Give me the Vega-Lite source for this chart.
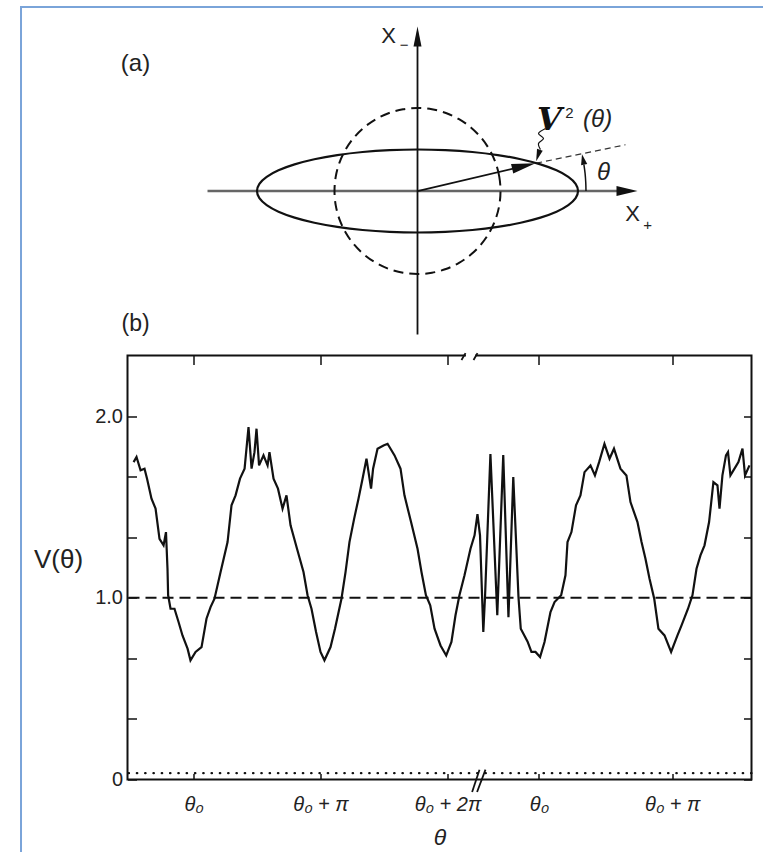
{
  "$schema": "https://vega.github.io/schema/vega-lite/v6.json",
  "background": "white",
  "padding": {"left": 19.5, "top": 4.5, "right": 0, "bottom": 0},
  "bounds": "flush",
  "spacing": 14,
  "config": {
    "font": "Liberation Sans",
    "axis": {"labelFont": "Liberation Sans", "titleFont": "Liberation Sans", "labelColor": "#222", "titleColor": "#222", "tickColor": "#111", "grid": false, "domain": false, "labelOverlap": false, "labelFlush": false},
    "title": {"font": "Liberation Sans", "color": "#222", "fontWeight": "normal"}
  },
  "datasets": {
    "frame": [
      {"x1": -4.777, "y1": 2.217, "x2": 4.2, "y2": 2.217},
      {"x1": -4.777, "y1": 2.23, "x2": -4.777, "y2": -8.1}
    ],
    "segs": [
      {"kind": "haxis", "x1": -2.53, "y1": 0, "x2": 2.42, "y2": 0},
      {"kind": "vaxis", "x1": 0, "y1": -1.729, "x2": 0, "y2": 1.76},
      {"kind": "vector", "x1": 0, "y1": 0, "x2": 1.29, "y2": 0.302},
      {"kind": "extension", "x1": 1.43, "y1": 0.335, "x2": 2.506, "y2": 0.557}
    ],
    "ellipse": [
      {"i": 0, "x": 1.934, "y": 0}, {"i": 1, "x": 1.905, "y": 0.087}, {"i": 2, "x": 1.817, "y": 0.171}, {"i": 3, "x": 1.675, "y": 0.25},
      {"i": 4, "x": 1.481, "y": 0.321}, {"i": 5, "x": 1.243, "y": 0.383}, {"i": 6, "x": 0.967, "y": 0.433}, {"i": 7, "x": 0.661, "y": 0.47},
      {"i": 8, "x": 0.336, "y": 0.492}, {"i": 9, "x": 0, "y": 0.5}, {"i": 10, "x": -0.336, "y": 0.492}, {"i": 11, "x": -0.661, "y": 0.47},
      {"i": 12, "x": -0.967, "y": 0.433}, {"i": 13, "x": -1.243, "y": 0.383}, {"i": 14, "x": -1.481, "y": 0.321}, {"i": 15, "x": -1.675, "y": 0.25},
      {"i": 16, "x": -1.817, "y": 0.171}, {"i": 17, "x": -1.905, "y": 0.087}, {"i": 18, "x": -1.934, "y": 0}, {"i": 19, "x": -1.905, "y": -0.087},
      {"i": 20, "x": -1.817, "y": -0.171}, {"i": 21, "x": -1.675, "y": -0.25}, {"i": 22, "x": -1.481, "y": -0.321}, {"i": 23, "x": -1.243, "y": -0.383},
      {"i": 24, "x": -0.967, "y": -0.433}, {"i": 25, "x": -0.661, "y": -0.47}, {"i": 26, "x": -0.336, "y": -0.492}, {"i": 27, "x": 0, "y": -0.5},
      {"i": 28, "x": 0.336, "y": -0.492}, {"i": 29, "x": 0.661, "y": -0.47}, {"i": 30, "x": 0.967, "y": -0.433}, {"i": 31, "x": 1.243, "y": -0.383},
      {"i": 32, "x": 1.481, "y": -0.321}, {"i": 33, "x": 1.675, "y": -0.25}, {"i": 34, "x": 1.817, "y": -0.171}, {"i": 35, "x": 1.905, "y": -0.087}
    ],
    "circle": [
      {"i": 0, "x": 1, "y": 0}, {"i": 1, "x": 0.985, "y": 0.174}, {"i": 2, "x": 0.94, "y": 0.342}, {"i": 3, "x": 0.866, "y": 0.5},
      {"i": 4, "x": 0.766, "y": 0.643}, {"i": 5, "x": 0.643, "y": 0.766}, {"i": 6, "x": 0.5, "y": 0.866}, {"i": 7, "x": 0.342, "y": 0.94},
      {"i": 8, "x": 0.174, "y": 0.985}, {"i": 9, "x": 0, "y": 1}, {"i": 10, "x": -0.174, "y": 0.985}, {"i": 11, "x": -0.342, "y": 0.94},
      {"i": 12, "x": -0.5, "y": 0.866}, {"i": 13, "x": -0.643, "y": 0.766}, {"i": 14, "x": -0.766, "y": 0.643}, {"i": 15, "x": -0.866, "y": 0.5},
      {"i": 16, "x": -0.94, "y": 0.342}, {"i": 17, "x": -0.985, "y": 0.174}, {"i": 18, "x": -1, "y": 0}, {"i": 19, "x": -0.985, "y": -0.174},
      {"i": 20, "x": -0.94, "y": -0.342}, {"i": 21, "x": -0.866, "y": -0.5}, {"i": 22, "x": -0.766, "y": -0.643}, {"i": 23, "x": -0.643, "y": -0.766},
      {"i": 24, "x": -0.5, "y": -0.866}, {"i": 25, "x": -0.342, "y": -0.94}, {"i": 26, "x": -0.174, "y": -0.985}, {"i": 27, "x": 0, "y": -1},
      {"i": 28, "x": 0.174, "y": -0.985}, {"i": 29, "x": 0.342, "y": -0.94}, {"i": 30, "x": 0.5, "y": -0.866}, {"i": 31, "x": 0.643, "y": -0.766},
      {"i": 32, "x": 0.766, "y": -0.643}, {"i": 33, "x": 0.866, "y": -0.5}, {"i": 34, "x": 0.94, "y": -0.342}, {"i": 35, "x": 0.985, "y": -0.174}
    ],
    "arc": [
      {"i": 0, "x": 2.03, "y": 0}, {"i": 1, "x": 2.027, "y": 0.106}, {"i": 2, "x": 2.019, "y": 0.212}, {"i": 3, "x": 2.005, "y": 0.318}
    ],
    "wave": [
      {"i": 0, "x": 1.542, "y": 0.753}, {"i": 1, "x": 1.458, "y": 0.693}, {"i": 2, "x": 1.518, "y": 0.633}, {"i": 3, "x": 1.458, "y": 0.572}, {"i": 4, "x": 1.482, "y": 0.5}
    ],
    "heads": [
      {"kind": "haxis", "x": 2.524, "y": 0},
      {"kind": "vaxis", "x": 0, "y": 1.861},
      {"kind": "vector", "x": 1.281, "y": 0.301},
      {"kind": "arc", "x": 1.995, "y": 0.38},
      {"kind": "wave", "x": 1.452, "y": 0.428}
    ],
    "texts": [
      {"kind": "panel", "x": -3.398, "y": 1.524, "label": "(a)"},
      {"kind": "axisname", "x": -0.349, "y": 1.873, "label": "X"},
      {"kind": "axisname", "x": 2.59, "y": -0.271, "label": "X"},
      {"kind": "sub", "x": -0.16, "y": 1.76, "label": "−"},
      {"kind": "sub", "x": 2.771, "y": -0.404, "label": "+"},
      {"kind": "theta", "x": 2.241, "y": 0.211, "label": "θ"},
      {"kind": "vee", "x": 1.59, "y": 0.85, "label": "V"},
      {"kind": "sup", "x": 1.83, "y": 0.945, "label": "2"},
      {"kind": "arg", "x": 2.17, "y": 0.861, "label": "(θ)"}
    ],
    "curve": [
      {"u": -0.472, "v": 1.747}, {"u": -0.449, "v": 1.775}, {"u": -0.417, "v": 1.702}, {"u": -0.386, "v": 1.711}, {"u": -0.366, "v": 1.656},
      {"u": -0.331, "v": 1.546}, {"u": -0.299, "v": 1.491}, {"u": -0.268, "v": 1.325}, {"u": -0.236, "v": 1.289}, {"u": -0.217, "v": 1.362},
      {"u": -0.205, "v": 1.16}, {"u": -0.2, "v": 1.014}, {"u": -0.181, "v": 0.94}, {"u": -0.15, "v": 0.94}, {"u": -0.118, "v": 0.867},
      {"u": -0.087, "v": 0.793}, {"u": -0.047, "v": 0.72}, {"u": -0.024, "v": 0.656}, {"u": 0.016, "v": 0.702}, {"u": 0.063, "v": 0.729},
      {"u": 0.102, "v": 0.885}, {"u": 0.134, "v": 0.949}, {"u": 0.165, "v": 0.995}, {"u": 0.213, "v": 1.142}, {"u": 0.268, "v": 1.307},
      {"u": 0.299, "v": 1.509}, {"u": 0.331, "v": 1.564}, {"u": 0.366, "v": 1.656}, {"u": 0.402, "v": 1.711}, {"u": 0.433, "v": 1.94},
      {"u": 0.457, "v": 1.711}, {"u": 0.48, "v": 1.802}, {"u": 0.496, "v": 1.931}, {"u": 0.516, "v": 1.729}, {"u": 0.551, "v": 1.784},
      {"u": 0.583, "v": 1.729}, {"u": 0.598, "v": 1.802}, {"u": 0.63, "v": 1.656}, {"u": 0.665, "v": 1.601}, {"u": 0.701, "v": 1.491},
      {"u": 0.732, "v": 1.564}, {"u": 0.764, "v": 1.399}, {"u": 0.815, "v": 1.27}, {"u": 0.866, "v": 1.142}, {"u": 0.898, "v": 1.014},
      {"u": 0.929, "v": 0.94}, {"u": 0.965, "v": 0.812}, {"u": 1.0, "v": 0.702}, {"u": 1.031, "v": 0.656}, {"u": 1.079, "v": 0.729},
      {"u": 1.114, "v": 0.83}, {"u": 1.165, "v": 0.995}, {"u": 1.197, "v": 1.142}, {"u": 1.228, "v": 1.307}, {"u": 1.265, "v": 1.436},
      {"u": 1.299, "v": 1.546}, {"u": 1.331, "v": 1.656}, {"u": 1.362, "v": 1.766}, {"u": 1.398, "v": 1.601}, {"u": 1.414, "v": 1.711},
      {"u": 1.449, "v": 1.821}, {"u": 1.496, "v": 1.839}, {"u": 1.528, "v": 1.848}, {"u": 1.583, "v": 1.784}, {"u": 1.63, "v": 1.711},
      {"u": 1.661, "v": 1.564}, {"u": 1.713, "v": 1.417}, {"u": 1.764, "v": 1.27}, {"u": 1.795, "v": 1.142}, {"u": 1.83, "v": 1.014},
      {"u": 1.864, "v": 0.959}, {"u": 1.898, "v": 0.83}, {"u": 1.945, "v": 0.738}, {"u": 1.99, "v": 0.683}, {"u": 2.031, "v": 0.757},
      {"u": 2.063, "v": 0.904}, {"u": 2.094, "v": 1.014}, {"u": 2.134, "v": 1.124}, {"u": 2.181, "v": 1.27}, {"u": 2.213, "v": 1.344},
      {"u": 2.236, "v": 1.461}, {"u": 2.256, "v": 1.344}, {"u": 2.282, "v": 0.812}, {"u": 2.296, "v": 1.014}, {"u": 2.338, "v": 1.791},
      {"u": 2.392, "v": 0.905}, {"u": 2.439, "v": 1.786}, {"u": 2.48, "v": 0.894}, {"u": 2.518, "v": 1.665}, {"u": 2.559, "v": 1.004},
      {"u": 2.577, "v": 0.83}, {"u": 2.63, "v": 0.76}, {"u": 2.661, "v": 0.702}, {"u": 2.693, "v": 0.702}, {"u": 2.729, "v": 0.674},
      {"u": 2.764, "v": 0.757}, {"u": 2.811, "v": 0.922}, {"u": 2.843, "v": 0.977}, {"u": 2.895, "v": 1.014}, {"u": 2.929, "v": 1.124},
      {"u": 2.945, "v": 1.307}, {"u": 2.976, "v": 1.362}, {"u": 3.012, "v": 1.509}, {"u": 3.047, "v": 1.564}, {"u": 3.079, "v": 1.692},
      {"u": 3.126, "v": 1.729}, {"u": 3.161, "v": 1.674}, {"u": 3.194, "v": 1.747}, {"u": 3.236, "v": 1.848}, {"u": 3.276, "v": 1.766},
      {"u": 3.311, "v": 1.821}, {"u": 3.362, "v": 1.711}, {"u": 3.409, "v": 1.674}, {"u": 3.441, "v": 1.527}, {"u": 3.496, "v": 1.417},
      {"u": 3.528, "v": 1.307}, {"u": 3.559, "v": 1.215}, {"u": 3.591, "v": 1.105}, {"u": 3.628, "v": 0.995}, {"u": 3.661, "v": 0.83},
      {"u": 3.709, "v": 0.793}, {"u": 3.761, "v": 0.702}, {"u": 3.811, "v": 0.793}, {"u": 3.843, "v": 0.848}, {"u": 3.894, "v": 0.94},
      {"u": 3.929, "v": 1.014}, {"u": 3.961, "v": 1.16}, {"u": 3.992, "v": 1.234}, {"u": 4.024, "v": 1.289}, {"u": 4.06, "v": 1.417},
      {"u": 4.094, "v": 1.637}, {"u": 4.126, "v": 1.619}, {"u": 4.142, "v": 1.491}, {"u": 4.165, "v": 1.674}, {"u": 4.193, "v": 1.784},
      {"u": 4.209, "v": 1.802}, {"u": 4.228, "v": 1.674}, {"u": 4.26, "v": 1.711}, {"u": 4.291, "v": 1.747}, {"u": 4.323, "v": 1.821},
      {"u": 4.343, "v": 1.674}, {"u": 4.378, "v": 1.729}
    ],
    "reflines": [
      {"kind": "zero", "v": 0.035},
      {"kind": "unity", "v": 1}
    ],
    "gap": [{"u1": 2.145, "u2": 2.218}],
    "breaks": [
      {"u1": 2.11, "v1": 2.309, "u2": 2.142, "v2": 2.347},
      {"u1": 2.205, "v1": 2.309, "u2": 2.236, "v2": 2.347},
      {"u1": 2.194, "v1": -0.069, "u2": 2.252, "v2": 0.054},
      {"u1": 2.233, "v1": -0.069, "u2": 2.299, "v2": 0.054}
    ]
  },
  "vconcat": [
    {
      "width": 624,
      "height": 320,
      "view": {"stroke": null},
      "layer": [
        {
          "data": {"name": "frame"},
          "mark": {"type": "rule", "color": "#7aa4d9", "strokeWidth": 2},
          "encoding": {
            "x": {"field": "x1", "type": "quantitative", "scale": {"domain": [-3.494, 4.024], "nice": false, "zero": false}, "axis": null},
            "y": {"field": "y1", "type": "quantitative", "scale": {"domain": [-1.813, 2.042], "nice": false, "zero": false}, "axis": null},
            "x2": {"field": "x2"}, "y2": {"field": "y2"}
          }
        },
        {
          "data": {"name": "segs"},
          "transform": [{"filter": "datum.kind == 'haxis'"}],
          "mark": {"type": "rule", "color": "#666", "strokeWidth": 2.5},
          "encoding": {
            "x": {"field": "x1", "type": "quantitative", "scale": {"domain": [-3.494, 4.024], "nice": false, "zero": false}, "axis": null},
            "y": {"field": "y1", "type": "quantitative", "scale": {"domain": [-1.813, 2.042], "nice": false, "zero": false}, "axis": null},
            "x2": {"field": "x2"}, "y2": {"field": "y2"}
          }
        },
        {
          "data": {"name": "segs"},
          "transform": [{"filter": "datum.kind == 'vaxis' || datum.kind == 'vector'"}],
          "mark": {"type": "rule", "color": "#111", "strokeWidth": 1.8},
          "encoding": {
            "x": {"field": "x1", "type": "quantitative", "scale": {"domain": [-3.494, 4.024], "nice": false, "zero": false}, "axis": null},
            "y": {"field": "y1", "type": "quantitative", "scale": {"domain": [-1.813, 2.042], "nice": false, "zero": false}, "axis": null},
            "x2": {"field": "x2"}, "y2": {"field": "y2"}
          }
        },
        {
          "data": {"name": "segs"},
          "transform": [{"filter": "datum.kind == 'extension'"}],
          "mark": {"type": "rule", "color": "#333", "strokeWidth": 1.2, "strokeDash": [6, 4]},
          "encoding": {
            "x": {"field": "x1", "type": "quantitative", "scale": {"domain": [-3.494, 4.024], "nice": false, "zero": false}, "axis": null},
            "y": {"field": "y1", "type": "quantitative", "scale": {"domain": [-1.813, 2.042], "nice": false, "zero": false}, "axis": null},
            "x2": {"field": "x2"}, "y2": {"field": "y2"}
          }
        },
        {
          "data": {"name": "ellipse"},
          "mark": {"type": "line", "color": "#111", "strokeWidth": 2.2, "interpolate": "cardinal-closed"},
          "encoding": {
            "x": {"field": "x", "type": "quantitative", "scale": {"domain": [-3.494, 4.024], "nice": false, "zero": false}, "axis": null},
            "y": {"field": "y", "type": "quantitative", "scale": {"domain": [-1.813, 2.042], "nice": false, "zero": false}, "axis": null},
            "order": {"field": "i", "type": "quantitative"}
          }
        },
        {
          "data": {"name": "circle"},
          "mark": {"type": "line", "color": "#111", "strokeWidth": 2, "strokeDash": [10, 6], "interpolate": "cardinal-closed"},
          "encoding": {
            "x": {"field": "x", "type": "quantitative", "scale": {"domain": [-3.494, 4.024], "nice": false, "zero": false}, "axis": null},
            "y": {"field": "y", "type": "quantitative", "scale": {"domain": [-1.813, 2.042], "nice": false, "zero": false}, "axis": null},
            "order": {"field": "i", "type": "quantitative"}
          }
        },
        {
          "data": {"name": "arc"},
          "mark": {"type": "line", "color": "#111", "strokeWidth": 1.5, "interpolate": "cardinal"},
          "encoding": {
            "x": {"field": "x", "type": "quantitative", "scale": {"domain": [-3.494, 4.024], "nice": false, "zero": false}, "axis": null},
            "y": {"field": "y", "type": "quantitative", "scale": {"domain": [-1.813, 2.042], "nice": false, "zero": false}, "axis": null},
            "order": {"field": "i", "type": "quantitative"}
          }
        },
        {
          "data": {"name": "wave"},
          "mark": {"type": "line", "color": "#111", "strokeWidth": 1.2, "interpolate": "cardinal"},
          "encoding": {
            "x": {"field": "x", "type": "quantitative", "scale": {"domain": [-3.494, 4.024], "nice": false, "zero": false}, "axis": null},
            "y": {"field": "y", "type": "quantitative", "scale": {"domain": [-1.813, 2.042], "nice": false, "zero": false}, "axis": null},
            "order": {"field": "i", "type": "quantitative"}
          }
        },
        {
          "data": {"name": "heads"},
          "transform": [{"filter": "datum.kind == 'haxis'"}],
          "mark": {"type": "point", "shape": "M-1,-0.48L1,0L-1,0.48Z", "filled": true, "opacity": 1, "color": "#111", "size": 441, "angle": 0, "strokeWidth": 0},
          "encoding": {
            "x": {"field": "x", "type": "quantitative", "scale": {"domain": [-3.494, 4.024], "nice": false, "zero": false}, "axis": null},
            "y": {"field": "y", "type": "quantitative", "scale": {"domain": [-1.813, 2.042], "nice": false, "zero": false}, "axis": null}
          }
        },
        {
          "data": {"name": "heads"},
          "transform": [{"filter": "datum.kind == 'vaxis'"}],
          "mark": {"type": "point", "shape": "M-1,-0.4L1,0L-1,0.4Z", "filled": true, "opacity": 1, "color": "#111", "size": 400, "angle": -90, "strokeWidth": 0},
          "encoding": {
            "x": {"field": "x", "type": "quantitative", "scale": {"domain": [-3.494, 4.024], "nice": false, "zero": false}, "axis": null},
            "y": {"field": "y", "type": "quantitative", "scale": {"domain": [-1.813, 2.042], "nice": false, "zero": false}, "axis": null}
          }
        },
        {
          "data": {"name": "heads"},
          "transform": [{"filter": "datum.kind == 'vector'"}],
          "mark": {"type": "point", "shape": "M-1,-0.4L1,0L-1,0.4Z", "filled": true, "opacity": 1, "color": "#111", "size": 576, "angle": -13.3, "strokeWidth": 0},
          "encoding": {
            "x": {"field": "x", "type": "quantitative", "scale": {"domain": [-3.494, 4.024], "nice": false, "zero": false}, "axis": null},
            "y": {"field": "y", "type": "quantitative", "scale": {"domain": [-1.813, 2.042], "nice": false, "zero": false}, "axis": null}
          }
        },
        {
          "data": {"name": "heads"},
          "transform": [{"filter": "datum.kind == 'arc'"}],
          "mark": {"type": "point", "shape": "M-1,-0.6L1,0L-1,0.6Z", "filled": true, "opacity": 1, "color": "#111", "size": 110, "angle": -102, "strokeWidth": 0},
          "encoding": {
            "x": {"field": "x", "type": "quantitative", "scale": {"domain": [-3.494, 4.024], "nice": false, "zero": false}, "axis": null},
            "y": {"field": "y", "type": "quantitative", "scale": {"domain": [-1.813, 2.042], "nice": false, "zero": false}, "axis": null}
          }
        },
        {
          "data": {"name": "heads"},
          "transform": [{"filter": "datum.kind == 'wave'"}],
          "mark": {"type": "point", "shape": "M-1,-0.5L1,0L-1,0.5Z", "filled": true, "opacity": 1, "color": "#111", "size": 144, "angle": 108, "strokeWidth": 0},
          "encoding": {
            "x": {"field": "x", "type": "quantitative", "scale": {"domain": [-3.494, 4.024], "nice": false, "zero": false}, "axis": null},
            "y": {"field": "y", "type": "quantitative", "scale": {"domain": [-1.813, 2.042], "nice": false, "zero": false}, "axis": null}
          }
        },
        {
          "data": {"name": "texts"},
          "transform": [{"filter": "datum.kind == 'panel'"}],
          "mark": {"type": "text", "font": "Liberation Sans", "fontSize": 24, "color": "#222", "align": "center", "baseline": "middle"},
          "encoding": {
            "x": {"field": "x", "type": "quantitative", "scale": {"domain": [-3.494, 4.024], "nice": false, "zero": false}, "axis": null},
            "y": {"field": "y", "type": "quantitative", "scale": {"domain": [-1.813, 2.042], "nice": false, "zero": false}, "axis": null},
            "text": {"field": "label"}
          }
        },
        {
          "data": {"name": "texts"},
          "transform": [{"filter": "datum.kind == 'axisname'"}],
          "mark": {"type": "text", "font": "Liberation Sans", "fontSize": 22, "color": "#222", "align": "center", "baseline": "middle"},
          "encoding": {
            "x": {"field": "x", "type": "quantitative", "scale": {"domain": [-3.494, 4.024], "nice": false, "zero": false}, "axis": null},
            "y": {"field": "y", "type": "quantitative", "scale": {"domain": [-1.813, 2.042], "nice": false, "zero": false}, "axis": null},
            "text": {"field": "label"}
          }
        },
        {
          "data": {"name": "texts"},
          "transform": [{"filter": "datum.kind == 'sub' || datum.kind == 'sup'"}],
          "mark": {"type": "text", "font": "Liberation Sans", "fontSize": 15, "color": "#222", "align": "center", "baseline": "middle"},
          "encoding": {
            "x": {"field": "x", "type": "quantitative", "scale": {"domain": [-3.494, 4.024], "nice": false, "zero": false}, "axis": null},
            "y": {"field": "y", "type": "quantitative", "scale": {"domain": [-1.813, 2.042], "nice": false, "zero": false}, "axis": null},
            "text": {"field": "label"}
          }
        },
        {
          "data": {"name": "texts"},
          "transform": [{"filter": "datum.kind == 'theta' || datum.kind == 'arg'"}],
          "mark": {"type": "text", "font": "Liberation Sans", "fontSize": 24, "fontStyle": "italic", "color": "#222", "align": "center", "baseline": "middle"},
          "encoding": {
            "x": {"field": "x", "type": "quantitative", "scale": {"domain": [-3.494, 4.024], "nice": false, "zero": false}, "axis": null},
            "y": {"field": "y", "type": "quantitative", "scale": {"domain": [-1.813, 2.042], "nice": false, "zero": false}, "axis": null},
            "text": {"field": "label"}
          }
        },
        {
          "data": {"name": "texts"},
          "transform": [{"filter": "datum.kind == 'vee'"}],
          "mark": {"type": "text", "font": "DejaVu Serif", "fontSize": 32, "fontStyle": "italic", "fontWeight": "bold", "color": "#111", "align": "center", "baseline": "middle"},
          "encoding": {
            "x": {"field": "x", "type": "quantitative", "scale": {"domain": [-3.494, 4.024], "nice": false, "zero": false}, "axis": null},
            "y": {"field": "y", "type": "quantitative", "scale": {"domain": [-1.813, 2.042], "nice": false, "zero": false}, "axis": null},
            "text": {"field": "label"}
          }
        }
      ]
    },
    {
      "width": 624,
      "height": 424,
      "view": {"stroke": "#111", "strokeWidth": 2},
      "title": {"text": "(b)", "anchor": "start", "frame": "group", "fontSize": 23, "offset": 16, "dx": -6},
      "resolve": {"axis": {"x": "independent", "y": "independent"}},
      "layer": [
        {
          "data": {"name": "reflines"},
          "transform": [{"filter": "datum.kind == 'zero'"}],
          "mark": {"type": "rule", "color": "#111", "strokeWidth": 2.2, "strokeDash": [0.5, 7.8], "strokeCap": "round"},
          "encoding": {"y": {"field": "v", "type": "quantitative", "scale": {"domain": [0, 2.334], "nice": false, "zero": false}, "axis": null}}
        },
        {
          "data": {"name": "reflines"},
          "transform": [{"filter": "datum.kind == 'unity'"}],
          "mark": {"type": "rule", "color": "#111", "strokeWidth": 2, "strokeDash": [11, 6]},
          "encoding": {"y": {"field": "v", "type": "quantitative", "scale": {"domain": [0, 2.334], "nice": false, "zero": false}, "axis": null}}
        },
        {
          "data": {"name": "curve"},
          "mark": {"type": "line", "color": "#111", "strokeWidth": 2.2},
          "encoding": {
            "x": {"field": "u", "type": "quantitative", "scale": {"domain": [-0.52, 4.394], "nice": false, "zero": false},
              "axis": {"orient": "bottom", "values": [0, 1, 2, 2.72, 3.77],
                "labelExpr": "datum.value < 0.5 ? 'θ₀' : datum.value < 1.5 ? 'θ₀ + π' : datum.value < 2.5 ? 'θ₀ + 2π' : datum.value < 3.2 ? 'θ₀' : 'θ₀ + π'",
                "tickSize": -6, "tickWidth": 1.5, "labelPadding": 21, "labelFontSize": 20, "labelFontStyle": "italic",
                "title": "θ", "titleFontSize": 23, "titleFontStyle": "italic", "titleFontWeight": "normal", "titlePadding": 12}},
            "y": {"field": "v", "type": "quantitative", "scale": {"domain": [0, 2.334], "nice": false, "zero": false},
              "axis": {"orient": "left", "values": [0, 0.3333, 0.6667, 1, 1.3333, 1.6667, 2],
                "labelExpr": "datum.value == 0 ? '0' : datum.value == 1 ? '1.0' : datum.value == 2 ? '2.0' : ''",
                "tickSize": -9, "tickWidth": 1.5, "labelPadding": 14, "labelFontSize": 20,
                "title": "V(θ)", "titleAngle": 0, "titleX": -94, "titleY": 204, "titleAlign": "left", "titleBaseline": "middle", "titleFontSize": 26, "titleFontWeight": "normal"}}
          }
        },
        {
          "data": {"name": "gap"},
          "mark": {"type": "rule", "color": "white", "strokeWidth": 4},
          "encoding": {
            "x": {"field": "u1", "type": "quantitative", "scale": {"domain": [-0.52, 4.394], "nice": false, "zero": false}, "axis": null},
            "x2": {"field": "u2"},
            "y": {"datum": 2.334, "type": "quantitative", "scale": {"domain": [0, 2.334], "nice": false, "zero": false}, "axis": null}
          }
        },
        {
          "data": {"name": "breaks"},
          "mark": {"type": "rule", "color": "#111", "strokeWidth": 1.8},
          "encoding": {
            "x": {"field": "u1", "type": "quantitative", "scale": {"domain": [-0.52, 4.394], "nice": false, "zero": false},
              "axis": {"orient": "top", "values": [0, 1, 2, 2.72, 3.77], "labels": false, "tickSize": -9, "tickWidth": 1.5, "title": null}},
            "y": {"field": "v1", "type": "quantitative", "scale": {"domain": [0, 2.334], "nice": false, "zero": false},
              "axis": {"orient": "right", "values": [0, 0.3333, 0.6667, 1, 1.3333, 1.6667, 2], "labels": false, "tickSize": -8, "tickWidth": 1.5, "title": null}},
            "x2": {"field": "u2"},
            "y2": {"field": "v2"}
          }
        }
      ]
    }
  ]
}
